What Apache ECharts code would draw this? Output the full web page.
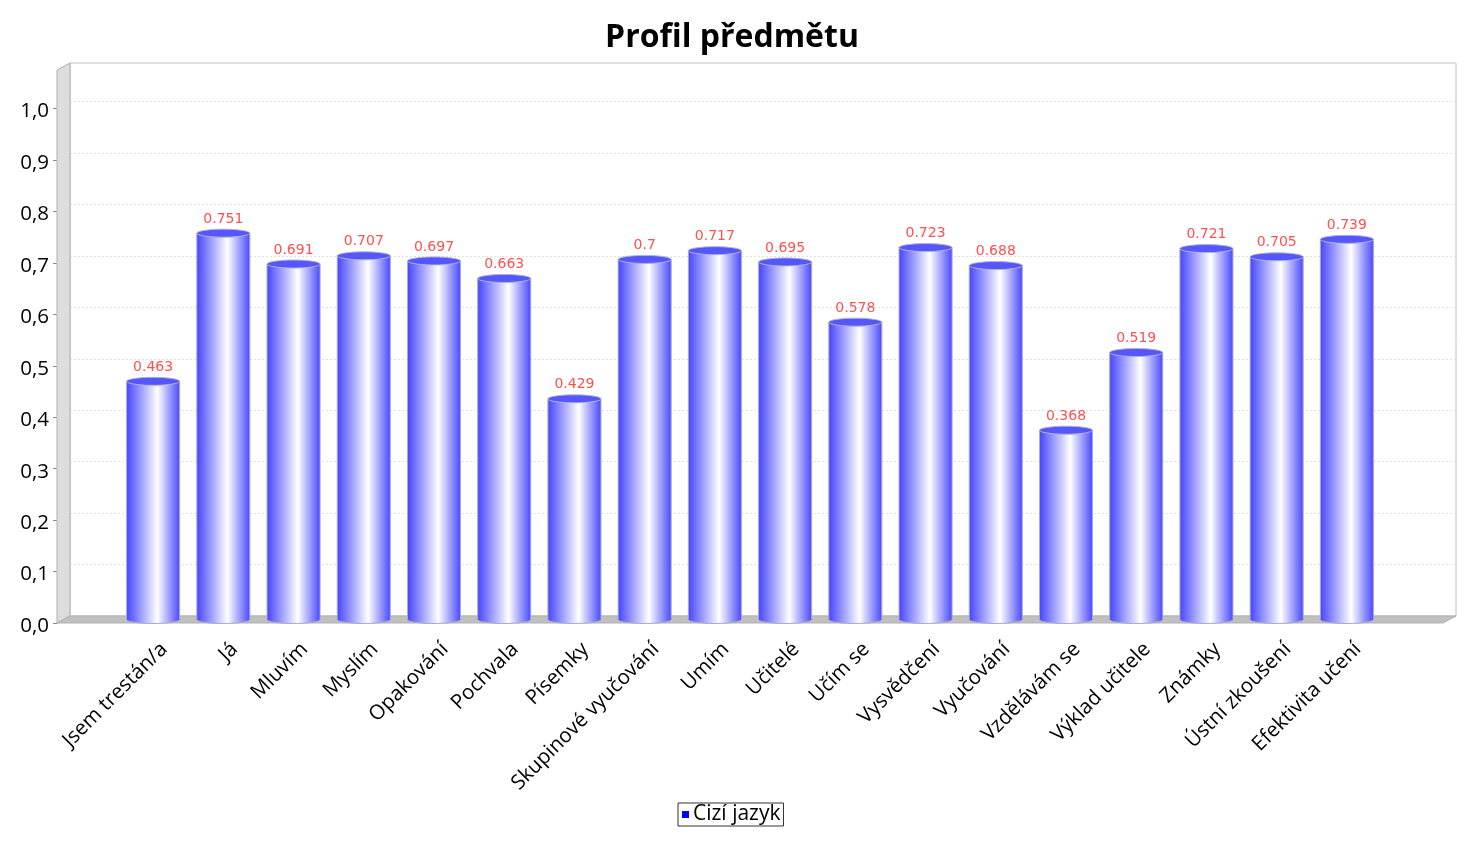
<!DOCTYPE html>
<html>
	<head>
		<meta charset="utf-8">
		<script src="https://cdn.jsdelivr.net/npm/echarts@6/dist/echarts.min.js"></script>
		<title>Profil předmětu</title>
	</head>
	<body>
		<style>
			html,
			body,
			#main {
				width: 100%;
				height: 100%;
				margin: 0;
				background: #fff;
			}
		</style>
		<div id="main"></div>
		<script type="text/javascript">
			// data
			var categories = ['Jsem trestán/a', 'Já', 'Mluvím', 'Myslím', 'Opakování', 'Pochvala', 'Písemky',
				'Skupinové vyučování', 'Umím', 'Učitelé', 'Učím se', 'Vysvědčení', 'Vyučování',
				'Vzdělávám se', 'Výklad učitele', 'Známky', 'Ústní zkoušení', 'Efektivita učení'];
			var values = [0.463, 0.751, 0.691, 0.707, 0.697, 0.663, 0.429, 0.7, 0.717, 0.695, 0.578,
				0.723, 0.688, 0.368, 0.519, 0.721, 0.705, 0.739];
			var yTicks = [0, 0.1, 0.2, 0.3, 0.4, 0.5, 0.6, 0.7, 0.8, 0.9, 1.0];
			var seriesName = 'Cizí jazyk';

			// 3D plot layout (back wall + depth offset)
			var back = { left: 70, top: 63, width: 1386, height: 553 };
			var depthX = 13, depthY = 7;
			var yMax = 1.075;
			var font = '"Open Sans", "Noto Sans", sans-serif';

			var backBottom = back.top + back.height;
			function yBack(t) { return backBottom - t / yMax * back.height; }
			function yFront(t) { return yBack(t) + depthY; }

			var myChart = echarts.init(document.getElementById('main'));

			// cylinder bar
			function renderCylinder(params, api) {
				var v = api.value(1);
				var top = api.coord([api.value(0), v]);
				var base = api.coord([api.value(0), 0]);
				var w = api.size([1, 0])[0] * 0.755;
				var rx = w / 2, ry = 4;
				var grad = new echarts.graphic.LinearGradient(0, 0, 1, 0, [
					{ offset: 0, color: '#4646ff' },
					{ offset: 0.58, color: '#ffffff' },
					{ offset: 1, color: '#4a4aff' }
				]);
				return {
					type: 'group',
					children: [
						{ type: 'ellipse', shape: { cx: top[0], cy: base[1], rx: rx, ry: ry },
							style: { fill: grad, stroke: '#a8a8d0', lineWidth: 1 } },
						{ type: 'rect', shape: { x: top[0] - rx, y: top[1], width: w, height: base[1] - top[1] },
							style: { fill: grad } },
						{ type: 'line', shape: { x1: top[0] - rx, y1: top[1], x2: top[0] - rx, y2: base[1] },
							style: { stroke: '#a8a8d0', lineWidth: 1 } },
						{ type: 'line', shape: { x1: top[0] + rx, y1: top[1], x2: top[0] + rx, y2: base[1] },
							style: { stroke: '#a8a8d0', lineWidth: 1 } },
						{ type: 'ellipse', shape: { cx: top[0], cy: top[1], rx: rx, ry: ry },
							style: { fill: '#5656ff', stroke: '#b4b4c8', lineWidth: 1 } },
						{ type: 'text', style: { text: String(v), x: top[0], y: top[1] - ry - 3,
							align: 'center', verticalAlign: 'bottom', fill: '#ff5050',
							font: '14px "DejaVu Sans", sans-serif' } }
					]
				};
			}

			// walls of the 3D plot
			var graphics = [
				{ type: 'polygon', z: 1,
					shape: { points: [[back.left - depthX, yFront(0)], [back.left - depthX, yFront(yMax)],
						[back.left, yBack(yMax)], [back.left, yBack(0)]] },
					style: { fill: '#dddddd', stroke: '#b0b0b0', lineWidth: 1 } },
				{ type: 'polygon', z: 1,
					shape: { points: [[back.left - depthX, yFront(0)], [back.left, yBack(0)],
						[back.left + back.width, yBack(0)], [back.left + back.width - depthX, yFront(0)]] },
					style: { fill: '#c0c0c0', stroke: '#b0b0b0', lineWidth: 1 } }
			];
			yTicks.forEach(function(t) {
				if (t === 0) return;
				graphics.push({ type: 'line', z: 1,
					shape: { x1: back.left - depthX, y1: yFront(t), x2: back.left, y2: yBack(t) },
					style: { stroke: '#e4e4e4', lineWidth: 1, lineDash: [2, 2] } });
			});

			var hiddenX = { type: 'category', data: categories, show: false };
			var option = {
				color: ['#0000ff'],
				animation: false,
				title: {
					text: 'Profil předmětu',
					left: 'center',
					top: 17,
					textStyle: { fontFamily: font, fontSize: 32, fontWeight: 'bold', color: '#000' }
				},
				legend: {
					data: [seriesName],
					left: 678,
					top: 803,
					padding: [1, 3, 1, 4],
					borderColor: '#333',
					borderWidth: 1,
					icon: 'rect',
					itemWidth: 7,
					itemHeight: 7,
					textStyle: { fontFamily: font, fontSize: 21, color: '#000', padding: [0, 0, 0, -1] }
				},
				graphic: graphics,
				grid: [
					// back wall
					{ left: back.left, top: back.top, width: back.width, height: back.height,
						show: true, backgroundColor: '#ffffff', borderColor: '#c0c0c0', borderWidth: 1 },
					// front value axis
					{ left: back.left - depthX, top: back.top + depthY, width: back.width, height: back.height },
					// cylinders, halfway in depth
					{ left: 118, top: back.top + depthY / 2, width: 1264, height: back.height },
					// category labels
					{ left: 129, top: back.top + depthY, width: 1264, height: back.height }
				],
				xAxis: [
					Object.assign({ gridIndex: 0 }, hiddenX),
					Object.assign({ gridIndex: 1 }, hiddenX),
					Object.assign({ gridIndex: 2 }, hiddenX),
					{
						type: 'category', gridIndex: 3, data: categories,
						axisLine: { show: false }, axisTick: { show: false },
						axisLabel: { rotate: 45, margin: 23, interval: 0, fontFamily: font, fontSize: 20.5, color: '#000' }
					}
				],
				yAxis: [
					{
						type: 'value', gridIndex: 0, min: 0, max: yMax, interval: 0.1,
						axisLine: { show: false }, axisTick: { show: false }, axisLabel: { show: false },
						splitLine: { lineStyle: { color: '#e0e0e0', type: [2, 2] } }
					},
					{
						type: 'value', gridIndex: 1, min: 0, max: yMax, interval: 0.1,
						axisLine: { show: false },
						axisTick: { show: true, inside: false, length: 4, customValues: yTicks,
							lineStyle: { color: '#888' } },
						axisLabel: {
							customValues: yTicks, margin: 8, color: '#000',
							formatter: function(v) { return '{n|' + v.toFixed(1).replace('.', ',') + '}'; },
							rich: {
								n: { fontFamily: font, fontSize: 20.5, color: '#000', padding: [6, 0, 0, 0] }
							}
						},
						splitLine: { show: false }
					},
					{ type: 'value', gridIndex: 2, min: 0, max: yMax, show: false, splitLine: { show: false } },
					{ type: 'value', gridIndex: 3, min: 0, max: yMax, show: false, splitLine: { show: false } }
				],
				series: [{
					name: seriesName,
					type: 'custom',
					xAxisIndex: 2,
					yAxisIndex: 2,
					z: 3,
					clip: false,
					renderItem: renderCylinder,
					encode: { x: 0, y: 1 },
					data: values.map(function(v, i) { return [i, v]; })
				}]
			};

			myChart.setOption(option);

			window.onresize = function() {
				myChart.resize();
			}
		</script>
	</body>
</html>
